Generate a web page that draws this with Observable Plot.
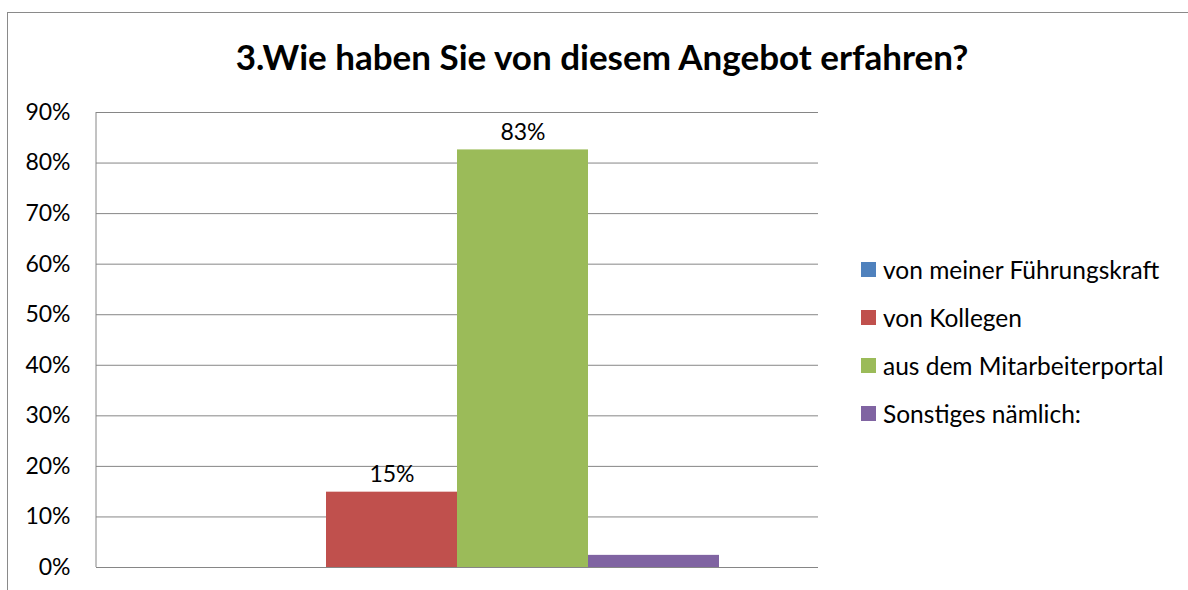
<!DOCTYPE html>
<html>
<head>
<meta charset="utf-8">
<script src="https://cdn.jsdelivr.net/npm/d3@7"></script>
<script src="https://cdn.jsdelivr.net/npm/@observablehq/plot@0.6"></script>
<style>
  html, body { margin: 0; padding: 0; background: #fff; }
  #wrap { position: relative; width: 1188px; height: 590px; overflow: hidden; font-family: Lato, "Open Sans", sans-serif; }
  #frame { position: absolute; left: 7px; top: 12px; width: 1400px; height: 800px; border: 1px solid #8a8a8a; box-sizing: border-box; }
  #title { position: absolute; left: 0; top: 36px; width: 1204px; text-align: center; font-size: 35px; font-weight: bold; line-height: 40px; color: #000; }
  #chart { position: absolute; left: 0; top: 0; }
  #legend { position: absolute; left: 861px; top: 245px; }
  .item { height: 48px; display: flex; align-items: center; font-size: 24.5px; color: #000; }
  .sw { width: 15px; height: 15px; margin-right: 7px; flex: none; }
</style>
</head>
<body>
<div id="wrap">
  <div id="frame"></div>
  <div id="title"></div>
  <div id="chart"></div>
  <div id="legend"></div>
</div>
<script>
const titleText = "3.Wie haben Sie von diesem Angebot erfahren?";
const series = ["von meiner Führungskraft", "von Kollegen", "aus dem Mitarbeiterportal", "Sonstiges nämlich:"];
const values = [0, 0.149, 0.826, 0.024];
const colors = ["#4F81BD", "#C0504D", "#9BBB59", "#8064A2"];
const showLabel = [false, true, true, false];
const yTicks = [0, 0.1, 0.2, 0.3, 0.4, 0.5, 0.6, 0.7, 0.8, 0.9];

const data = series.map((s, i) => ({series: s, value: values[i], label: showLabel[i]}));
const fmt = d3.format(".0%");

document.getElementById("title").textContent = titleText;

const leftLine = (index, scales, vals, dims) => {
  const ns = "http://www.w3.org/2000/svg";
  const l = document.createElementNS(ns, "line");
  l.setAttribute("x1", dims.marginLeft);
  l.setAttribute("x2", dims.marginLeft);
  l.setAttribute("y1", scales.y(yTicks[yTicks.length - 1]));
  l.setAttribute("y2", scales.y(yTicks[0]));
  l.setAttribute("stroke", "#868686");
  l.setAttribute("stroke-width", 1);
  return l;
};

const chart = Plot.plot({
  width: 830,
  height: 590,
  marginLeft: 96,
  marginRight: 12,
  marginTop: 112,
  marginBottom: 23,
  style: {fontFamily: "Lato, 'Open Sans', sans-serif", color: "#000", background: "transparent"},
  x: {domain: series, paddingInner: 0, paddingOuter: 0.744, axis: null},
  y: {domain: [0, 0.9], label: null},
  color: {domain: series, range: colors},
  marks: [
    Plot.gridY(yTicks, {stroke: "#868686", strokeOpacity: 1, strokeWidth: 1}),
    Plot.axisY(yTicks, {tickSize: 0, tickPadding: 26, tickFormat: fmt, fontSize: 23, label: null}),
    Plot.barY(data, {x: "series", y: "value", fill: "series", insetLeft: 0, insetRight: 0}),
    leftLine,
    Plot.text(data.filter(d => d.label), {x: "series", y: "value", text: d => fmt(d.value), dy: -10, lineAnchor: "bottom", fontSize: 23, fill: "#000"})
  ]
});
document.getElementById("chart").appendChild(chart);

const legend = document.getElementById("legend");
series.forEach((s, i) => {
  const row = document.createElement("div");
  row.className = "item";
  const sw = document.createElement("span");
  sw.className = "sw";
  sw.style.background = colors[i];
  const t = document.createElement("span");
  t.textContent = s;
  row.appendChild(sw);
  row.appendChild(t);
  legend.appendChild(row);
});
</script>
</body>
</html>
